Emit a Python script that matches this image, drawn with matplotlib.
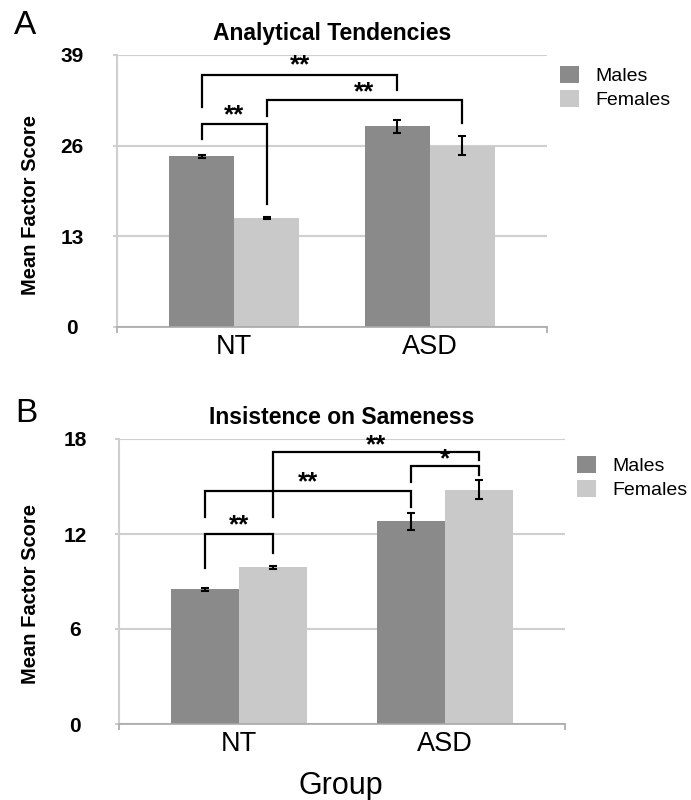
import matplotlib
matplotlib.use("Agg")
import matplotlib.pyplot as plt

plt.rcParams['font.family'] = ['Liberation Sans', 'DejaVu Sans']

groups = ['NT', 'ASD']
sexes = ['Males', 'Females']

# Analytical Tendencies (panel A)
at_males = [24.5, 28.8]
at_females = [15.6, 26.0]
at_males_err = [0.2, 0.95]
at_females_err = [0.18, 1.35]
at_ticks = [0, 13, 26, 39]
# (group, sex) -> (group, sex), leg bottoms, bracket top, label, label height
at_brackets = [
    ((0, 0), (1, 0), 31.5, 34.0, 36.2, '**', 37.5),
    ((0, 1), (1, 1), 30.3, 29.3, 32.5, '**', 33.6),
    ((0, 0), (0, 1), 27.0, 17.6, 29.1, '**', 30.4),
]

# Insistence on Sameness (panel B)
is_males = [8.5, 12.8]
is_females = [9.9, 14.8]
is_males_err = [0.09, 0.53]
is_females_err = [0.1, 0.61]
is_ticks = [0, 6, 12, 18]
is_brackets = [
    ((0, 0), (0, 1), 9.83, 10.82, 12.02, '**', 12.53),
    ((0, 0), (1, 0), 13.1, 13.69, 14.72, '**', 15.27),
    ((0, 1), (1, 1), 13.1, 16.68, 17.18, '**', 17.58),
    ((1, 0), (1, 1), 15.27, 15.73, 16.32, '*', 16.74),
]

MALE_COLOR = '#8a8a8a'
FEMALE_COLOR = '#c9c9c9'
GRID_COLOR = '#cfcfcf'
AXIS_COLOR = '#a8a8a8'

W, H = 691, 800
fig = plt.figure(figsize=(W / 100, H / 100), dpi=100)


def px_axes(left, top, right, bottom):
    return fig.add_axes([left / W, 1 - bottom / H, (right - left) / W, (bottom - top) / H])


def draw_panel(ax, title, males, females, m_err, f_err, ticks, brackets,
               xlim, width, tick_pad, legend_xy):
    x = list(range(len(groups)))
    mx = [i - width / 2 for i in x]
    fx = [i + width / 2 for i in x]
    bm = ax.bar(mx, males, width, color=MALE_COLOR, label=sexes[0], zorder=2)
    bf = ax.bar(fx, females, width, color=FEMALE_COLOR, label=sexes[1], zorder=2)
    ekw = dict(fmt='none', ecolor='black', elinewidth=1.5, capsize=2.6, capthick=1.5, zorder=3)
    ax.errorbar(mx, males, yerr=m_err, **ekw)
    ax.errorbar(fx, females, yerr=f_err, **ekw)

    # significance brackets between bar centres
    centres = [mx, fx]
    for (ga, sa), (gb, sb), y_a, y_b, top, label, label_y in brackets:
        xa = centres[sa][ga]
        xb = centres[sb][gb]
        ax.plot([xa, xa, xb, xb], [y_a, top, top, y_b], color='black', lw=1.6,
                solid_joinstyle='miter', zorder=4)
        ax.text((xa + xb) / 2, label_y, label, ha='center', va='center',
                fontsize=18.5, fontweight='bold', zorder=4)

    ax.set_xlim(*xlim)
    ax.set_ylim(ticks[0], ticks[-1])
    ax.set_yticks(ticks)
    ax.set_yticklabels([str(t) for t in ticks], fontsize=15, fontweight='bold')
    for lab in ax.get_yticklabels():
        lab.set_horizontalalignment('center')
    ax.tick_params(axis='y', length=2.9, width=1.5, color=GRID_COLOR, pad=tick_pad)
    ax.set_xticks(x)
    ax.set_xticklabels(groups, fontsize=19.5)
    ax.tick_params(axis='x', length=0, pad=5)
    ax.set_xticks(list(xlim), minor=True)
    ax.tick_params(axis='x', which='minor', length=4, width=1.2, color=AXIS_COLOR)

    ax.grid(axis='y', color=GRID_COLOR, lw=1.5)
    ax.set_axisbelow(True)
    for side in ['top', 'right']:
        ax.spines[side].set_visible(False)
    ax.spines['left'].set_color(GRID_COLOR)
    ax.spines['left'].set_linewidth(1.5)
    ax.spines['bottom'].set_color(AXIS_COLOR)
    ax.spines['bottom'].set_linewidth(1.2)

    ax.set_title(title, fontsize=16.5, fontweight='bold', pad=11)
    ax.legend(handles=[bm, bf], frameon=False, loc='upper left',
              bbox_to_anchor=(legend_xy[0] / W, 1 - legend_xy[1] / H),
              bbox_transform=fig.transFigure, fontsize=14, handlelength=1.0,
              handleheight=0.95, handletextpad=0.8, labelspacing=0.25,
              borderpad=0, borderaxespad=0)


ax_a = px_axes(117, 55, 547, 327)
draw_panel(ax_a, 'Analytical Tendencies', at_males, at_females, at_males_err,
           at_females_err, at_ticks, at_brackets, (-0.6, 1.6), 0.332, 29.5, (560, 66))

ax_b = px_axes(119, 439, 565, 724)
draw_panel(ax_b, 'Insistence on Sameness', is_males, is_females, is_males_err,
           is_females_err, is_ticks, is_brackets, (-0.583, 1.583), 0.33, 28.8, (577, 456))

fig.text(31 / W, 1 - 205 / H, 'Mean Factor Score', rotation=90, ha='center', va='center',
         fontsize=14.5, fontweight='bold')
fig.text(31 / W, 1 - 594 / H, 'Mean Factor Score', rotation=90, ha='center', va='center',
         fontsize=14.5, fontweight='bold')
fig.text(341 / W, 1 - 794 / H, 'Group', ha='center', va='baseline', fontsize=22)
fig.text(14 / W, 1 - 34 / H, 'A', ha='left', va='baseline', fontsize=24)
fig.text(15 / W, 1 - 422 / H, 'B', ha='left', va='baseline', fontsize=24)

fig.savefig('out.png', dpi=100)
